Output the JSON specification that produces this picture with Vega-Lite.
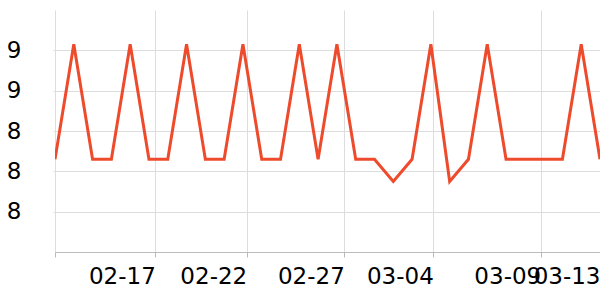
{
  "$schema": "https://vega.github.io/schema/vega-lite/v6.json",
  "width": 545,
  "height": 242,
  "autosize": {"type": "none"},
  "padding": {"left": 55, "top": 10, "right": 0, "bottom": 48},
  "background": "white",
  "config": {
    "view": {"stroke": null},
    "font": "DejaVu Sans"
  },
  "data": {
    "values": [
      {"date": "2023-02-12T00:00:00", "value": 8.66},
      {"date": "2023-02-13T00:00:00", "value": 9.23},
      {"date": "2023-02-14T00:00:00", "value": 8.66},
      {"date": "2023-02-15T00:00:00", "value": 8.66},
      {"date": "2023-02-16T00:00:00", "value": 9.23},
      {"date": "2023-02-17T00:00:00", "value": 8.66},
      {"date": "2023-02-18T00:00:00", "value": 8.66},
      {"date": "2023-02-19T00:00:00", "value": 9.23},
      {"date": "2023-02-20T00:00:00", "value": 8.66},
      {"date": "2023-02-21T00:00:00", "value": 8.66},
      {"date": "2023-02-22T00:00:00", "value": 9.23},
      {"date": "2023-02-23T00:00:00", "value": 8.66},
      {"date": "2023-02-24T00:00:00", "value": 8.66},
      {"date": "2023-02-25T00:00:00", "value": 9.23},
      {"date": "2023-02-26T00:00:00", "value": 8.66},
      {"date": "2023-02-27T00:00:00", "value": 9.23},
      {"date": "2023-02-28T00:00:00", "value": 8.66},
      {"date": "2023-03-01T00:00:00", "value": 8.66},
      {"date": "2023-03-02T00:00:00", "value": 8.55},
      {"date": "2023-03-03T00:00:00", "value": 8.66},
      {"date": "2023-03-04T00:00:00", "value": 9.23},
      {"date": "2023-03-05T00:00:00", "value": 8.55},
      {"date": "2023-03-06T00:00:00", "value": 8.66},
      {"date": "2023-03-07T00:00:00", "value": 9.23},
      {"date": "2023-03-08T00:00:00", "value": 8.66},
      {"date": "2023-03-09T00:00:00", "value": 8.66},
      {"date": "2023-03-10T00:00:00", "value": 8.66},
      {"date": "2023-03-11T00:00:00", "value": 8.66},
      {"date": "2023-03-12T00:00:00", "value": 9.23},
      {"date": "2023-03-13T00:00:00", "value": 8.66}
    ]
  },
  "mark": {"type": "line", "color": "#ee4a2c", "strokeWidth": 3, "clip": true},
  "encoding": {
    "x": {
      "field": "date",
      "type": "temporal",
      "scale": {"nice": false, "domain": [{"year": 2023, "month": 2, "date": 12}, {"year": 2023, "month": 3, "date": 13}]},
      "axis": {
        "title": null,
        "values": [
          {"year": 2023, "month": 2, "date": 12},
          {"year": 2023, "month": 2, "date": 17, "hours": 8, "minutes": 5},
          {"year": 2023, "month": 2, "date": 22, "hours": 4, "minutes": 50},
          {"year": 2023, "month": 2, "date": 27, "hours": 9, "minutes": 28},
          {"year": 2023, "month": 3, "date": 4, "hours": 3, "minutes": 7},
          {"year": 2023, "month": 3, "date": 9, "hours": 20, "minutes": 17},
          {"year": 2023, "month": 3, "date": 13}
        ],
        "labelExpr": "datum.index == 0 ? '' : timeFormat(datum.value, '%m-%d')",
        "labelAlign": "right",
        "labelFontSize": 23,
        "labelColor": "#000000",
        "labelPadding": 8,
        "labelOverlap": false,
        "labelFlush": false,
        "tickSize": 5,
        "tickColor": "#bbbbbb",
        "domainColor": "#bbbbbb",
        "gridColor": "#dddddd",
        "grid": true
      }
    },
    "y": {
      "field": "value",
      "type": "quantitative",
      "scale": {"domain": [8.2, 9.4], "nice": false, "zero": false},
      "axis": {
        "title": null,
        "values": [8.4, 8.6, 8.8, 9.0, 9.2],
        "labelExpr": "floor(datum.value)",
        "labelFontSize": 23,
        "labelColor": "#000000",
        "labelPadding": 32,
        "tickSize": 2,
        "tickColor": "#dddddd",
        "domain": false,
        "gridColor": "#dddddd",
        "grid": true
      }
    }
  }
}
